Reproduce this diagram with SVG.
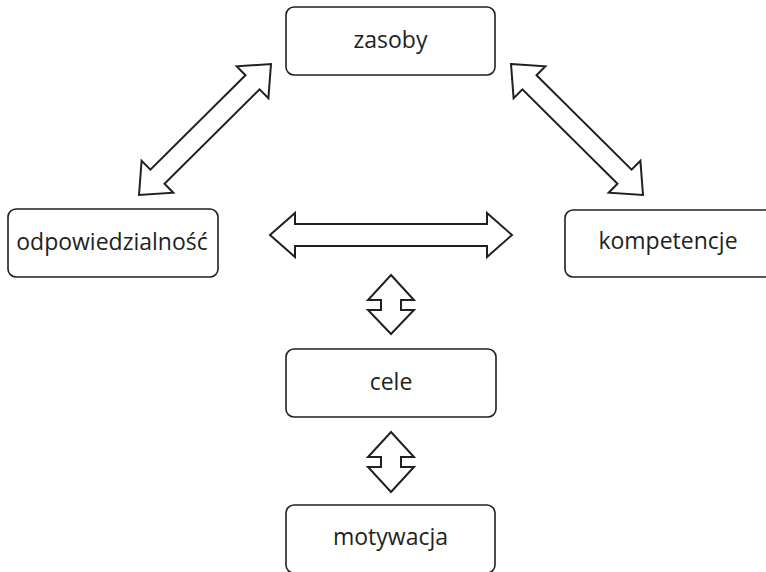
<svg xmlns="http://www.w3.org/2000/svg" width="766" height="572" viewBox="0 0 766 572">
<defs>
<style>
.box{fill:#fff;stroke:#231f20;stroke-width:1.6}
.lbl{font-family:"Open Sans","Liberation Sans",sans-serif;font-size:23px;fill:#231f20;text-anchor:middle}
.arr{fill:#fff;stroke:#231f20;stroke-width:2;stroke-linejoin:miter}
</style>
<path id="diag" d="M-93,0 L-67,-22.5 L-67,-10 L67,-10 L67,-22.5 L93,0 L67,22.5 L67,10 L-67,10 L-67,22.5 Z"/>
</defs>
<rect width="766" height="572" fill="#fff"/>
<g id="connectors">
<use href="#diag" class="arr" transform="translate(205,129.5) rotate(-44.8)"/>
<use href="#diag" class="arr" transform="translate(577,129.5) rotate(44.8)"/>
<path class="arr" d="M270,235 L295,213 L295,224 L487,224 L487,213 L512,235 L487,257 L487,246 L295,246 L295,257 Z"/>
<path class="arr" d="M391,275 L414,300 L401,300 L401,310 L414,310 L391,334 L368,310 L381,310 L381,300 L368,300 Z"/>
<path class="arr" d="M391,432 L414,457 L401,457 L401,467 L414,467 L391,492 L368,467 L381,467 L381,457 L368,457 Z"/>
</g>
<g id="zasoby">
<rect class="box" x="286" y="7" width="209" height="68" rx="8"/>
<text class="lbl" x="390.5" y="48">zasoby</text>
</g>
<g id="odpowiedzialnosc">
<rect class="box" x="8" y="209" width="210" height="68" rx="8"/>
<text class="lbl" x="112" y="250">odpowiedzialność</text>
</g>
<g id="kompetencje">
<rect class="box" x="565" y="210" width="210" height="67" rx="8"/>
<text class="lbl" x="668" y="249">kompetencje</text>
</g>
<g id="cele">
<rect class="box" x="286" y="349" width="210" height="68" rx="8"/>
<text class="lbl" x="391" y="390">cele</text>
</g>
<g id="motywacja">
<rect class="box" x="286" y="505" width="209" height="68" rx="8"/>
<text class="lbl" x="390.5" y="545">motywacja</text>
</g>
</svg>
